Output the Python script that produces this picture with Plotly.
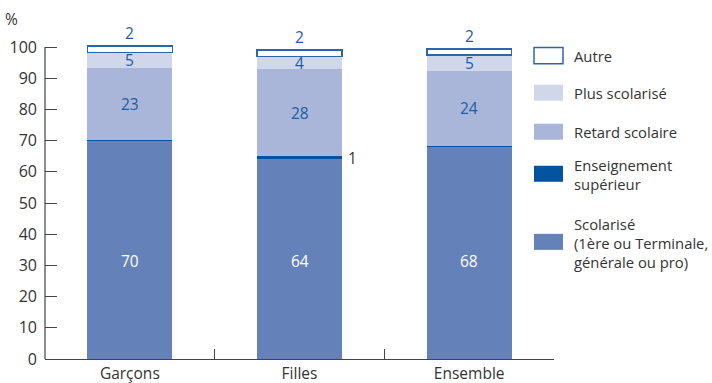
import plotly.graph_objects as go

# Data (%)
categories = ["Garçons", "Filles", "Ensemble"]
scolarise = [70, 64, 68]
ens_sup = [0.3, 1, 0.4]
retard = [23, 28, 24]
plus_scol = [5, 4, 5]
autre = [2, 2, 2]
y_ticks = [0, 10, 20, 30, 40, 50, 60, 70, 80, 90, 100]

FONT = "Open Sans"
FS = 15.5
FS_LEG = 14.8
C_SCOL = "#6581b9"
C_SUP = "#03539f"
C_RET = "#a9b6d9"
C_PLUS = "#d1d7eb"
C_AUTRE_LINE = "#2c66aa"
C_LABEL = "#1c5ca3"
C_TEXT = "#333333"
C_AXIS = "#444444"

Y_MAX = 101  # a little headroom so the outlined top segment is not clipped

fig = go.Figure()


def bar(values, color, line=None):
    return go.Bar(
        x=categories, y=values, width=0.5,
        marker=dict(color=color, line=line or dict(width=0)),
        cliponaxis=False, showlegend=False, hoverinfo="skip",
    )


fig.add_trace(bar(scolarise, C_SCOL))
fig.add_trace(bar(ens_sup, C_SUP))
fig.add_trace(bar(retard, C_RET))
fig.add_trace(bar(plus_scol, C_PLUS))
fig.add_trace(bar(autre, "white", line=dict(color=C_AUTRE_LINE, width=1.5)))

annotations = []


def label(x, y, text, color=C_LABEL, **kw):
    annotations.append(dict(x=x, y=y, text=text, showarrow=False,
                            font=dict(family=FONT, size=FS, color=color), **kw))


for i, c in enumerate(categories):
    base = scolarise[i]
    # main segment: white label at a common height inside the bar
    label(c, 31.5, str(scolarise[i]), color="white")
    # thin "Enseignement supérieur" segment: labelled beside the bar when visible
    if ens_sup[i] >= 1:
        label(c, base + ens_sup[i] / 2, str(ens_sup[i]), color=C_TEXT, xshift=53)
    base += ens_sup[i]
    label(c, base + retard[i] / 2, str(retard[i]))
    base += retard[i]
    label(c, base + plus_scol[i] / 2, str(plus_scol[i]))
    base += plus_scol[i]
    # "Autre" label sits just above its thin outlined segment
    label(c, base + autre[i] / 2, str(autre[i]), yshift=16)

W, H = 712, 383
PX0, PW, PY0 = 45, 509, 359
PX_PER_UNIT = 3.115
PH = PX_PER_UNIT * Y_MAX
TOP = PY0 - PH


def py(pixel_y):
    return (PY0 - pixel_y) / PH


annotations.append(dict(xref="paper", yref="paper", x=-0.065, y=py(19), text="%",
                        showarrow=False, xanchor="center", yanchor="middle",
                        font=dict(family=FONT, size=FS, color=C_TEXT)))

# y axis line stops at the 100 tick
shapes = [dict(type="line", xref="paper", yref="y", x0=0, x1=0, y0=0, y1=100,
               line=dict(color=C_AXIS, width=1.2))]

# Custom legend on the right
legend_items = [
    ("Autre", "white", C_AUTRE_LINE, 56, 56),
    ("Plus scolarisé", C_PLUS, None, 93, 93),
    ("Retard scolaire", C_RET, None, 132, 132),
    ("Enseignement<br>supérieur", C_SUP, None, 174, 175),
    ("Scolarisé<br>(1ère ou Terminale,<br>générale ou pro)", C_SCOL, None, 242, 243),
]
sx0, sx1 = 534, 563
for text, fill, outline, yc, ty in legend_items:
    shapes.append(dict(type="rect", xref="paper", yref="paper",
                       x0=(sx0 - PX0) / PW, x1=(sx1 - PX0) / PW,
                       y0=py(yc + 8), y1=py(yc - 8),
                       fillcolor=fill,
                       line=dict(color=outline or fill, width=1.5 if outline else 0)))
    annotations.append(dict(xref="paper", yref="paper", x=(572 - PX0) / PW,
                            y=py(ty), text=text, showarrow=False,
                            xanchor="left", yanchor="middle", align="left",
                            font=dict(family=FONT, size=FS_LEG, color=C_TEXT)))

fig.update_layout(
    barmode="stack",
    width=W, height=H,
    margin=dict(l=PX0, r=W - PX0 - PW, t=TOP, b=H - PY0, autoexpand=False),
    paper_bgcolor="white", plot_bgcolor="white",
    font=dict(family=FONT, size=FS, color=C_TEXT),
    annotations=annotations, shapes=shapes,
    showlegend=False,
)
fig.update_xaxes(
    type="category", tickson="boundaries", ticks="inside", ticklen=10,
    tickcolor=C_AXIS, tickwidth=1.2, showline=True, linecolor=C_AXIS, linewidth=1.2,
    showgrid=False, automargin=False, tickfont=dict(family=FONT, size=FS, color=C_TEXT),
)
fig.update_yaxes(
    range=[0, Y_MAX], tickvals=y_ticks, ticks="inside", ticklen=12,
    tickcolor=C_AXIS, tickwidth=1.2, showline=False,
    showgrid=False, zeroline=False, automargin=False, ticklabelstandoff=7,
    tickfont=dict(family=FONT, size=16, color=C_TEXT),
)

fig.write_html("out.html")
